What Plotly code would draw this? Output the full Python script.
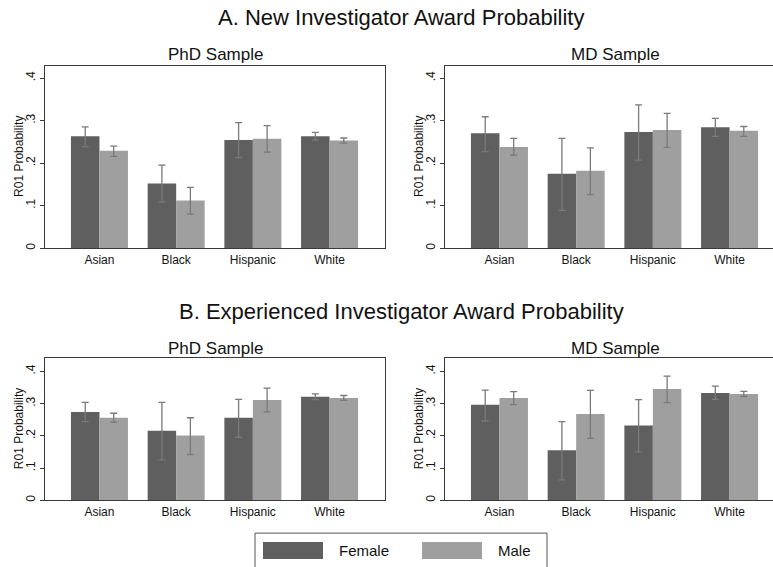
import plotly.graph_objects as go

W, H = 773, 567

categories = ["Asian", "Black", "Hispanic", "White"]
groups = ["Female", "Male"]

# Panel A: New Investigator, PhD sample
a_phd_female = [0.263, 0.152, 0.254, 0.263]
a_phd_female_hi = [0.285, 0.195, 0.295, 0.272]
a_phd_female_lo = [0.238, 0.109, 0.213, 0.254]
a_phd_male = [0.229, 0.112, 0.257, 0.253]
a_phd_male_hi = [0.240, 0.143, 0.288, 0.259]
a_phd_male_lo = [0.216, 0.080, 0.226, 0.247]

# Panel A: New Investigator, MD sample
a_md_female = [0.270, 0.175, 0.273, 0.284]
a_md_female_hi = [0.309, 0.258, 0.337, 0.305]
a_md_female_lo = [0.227, 0.089, 0.207, 0.263]
a_md_male = [0.238, 0.182, 0.278, 0.276]
a_md_male_hi = [0.258, 0.236, 0.317, 0.286]
a_md_male_lo = [0.219, 0.126, 0.237, 0.263]

# Panel B: Experienced Investigator, PhD sample
b_phd_female = [0.274, 0.216, 0.256, 0.321]
b_phd_female_hi = [0.304, 0.304, 0.313, 0.330]
b_phd_female_lo = [0.244, 0.125, 0.195, 0.312]
b_phd_male = [0.256, 0.201, 0.311, 0.317]
b_phd_male_hi = [0.270, 0.256, 0.348, 0.325]
b_phd_male_lo = [0.242, 0.142, 0.274, 0.310]

# Panel B: Experienced Investigator, MD sample
b_md_female = [0.296, 0.155, 0.232, 0.333]
b_md_female_hi = [0.342, 0.244, 0.312, 0.354]
b_md_female_lo = [0.246, 0.063, 0.150, 0.313]
b_md_male = [0.317, 0.268, 0.345, 0.330]
b_md_male_hi = [0.337, 0.341, 0.385, 0.338]
b_md_male_lo = [0.297, 0.192, 0.303, 0.322]

y_ticks = [0, 0.1, 0.2, 0.3, 0.4]
y_tick_labels = ["0", ".1", ".2", ".3", ".4"]

FEMALE = "#5f5f5f"
MALE = "#9f9f9f"
ERR = "#7a7a7a"
FONT = "Liberation Sans, Arial, Helvetica, sans-serif"


def px_x(p):
    return p / W


def px_y(p):
    return 1 - p / H


fig = go.Figure()

panels = [
    ("x", "y", a_phd_female, a_phd_female_hi, a_phd_female_lo, a_phd_male, a_phd_male_hi, a_phd_male_lo),
    ("x2", "y2", a_md_female, a_md_female_hi, a_md_female_lo, a_md_male, a_md_male_hi, a_md_male_lo),
    ("x3", "y3", b_phd_female, b_phd_female_hi, b_phd_female_lo, b_phd_male, b_phd_male_hi, b_phd_male_lo),
    ("x4", "y4", b_md_female, b_md_female_hi, b_md_female_lo, b_md_male, b_md_male_hi, b_md_male_lo),
]

for xa, ya, f, fhi, flo, m, mhi, mlo in panels:
    for name, vals, hi, lo, col in [("Female", f, fhi, flo, FEMALE), ("Male", m, mhi, mlo, MALE)]:
        fig.add_trace(go.Bar(
            x=categories, y=vals, name=name, xaxis=xa, yaxis=ya,
            marker=dict(color=col, line=dict(width=0)),
            offsetgroup=name,
            error_y=dict(type="data", symmetric=False,
                         array=[h - v for h, v in zip(hi, vals)],
                         arrayminus=[v - l for v, l in zip(vals, lo)],
                         color=ERR, thickness=1.3, width=3.5),
            showlegend=False,
        ))

# geometry (pixels)
left_x = (45, 385)
right_x = (445, 773)
top_y = (66, 249)
bot_y = (359.3, 502)
unit = 76.7  # px per category
x_start = -0.71

def xdom(lim):
    return [px_x(lim[0]), px_x(lim[1])]

def ydom(lim):
    return [px_y(lim[1]), px_y(lim[0])]

def xrange(lim):
    return [x_start, x_start + (lim[1] - lim[0]) / unit]

LINE = "#3a3a3a"

xcommon = dict(showline=True, linecolor=LINE, linewidth=1, mirror=True, ticks="",
               showgrid=False, zeroline=False, tickfont=dict(size=12, color="#111", family=FONT),
               fixedrange=True)
ycommon = dict(showline=True, linecolor=LINE, linewidth=1, ticks="outside", ticklen=4,
               tickcolor=LINE, tickvals=y_ticks, ticktext=y_tick_labels, tickangle=-90,
               showgrid=False, zeroline=False, tickfont=dict(size=12, color="#111", family=FONT),
               fixedrange=True)

top_range = [0, (top_y[1] - top_y[0]) / 426.7]
bot_range = [0, (bot_y[1] - bot_y[0]) / 323.3]

fig.update_layout(
    width=W, height=H,
    margin=dict(l=0, r=0, t=0, b=0),
    paper_bgcolor="white", plot_bgcolor="white",
    barmode="group", bargap=0.257, bargroupgap=0,
    font=dict(family=FONT, color="#111"),
    xaxis=dict(domain=xdom(left_x), range=xrange(left_x), anchor="y", **xcommon),
    yaxis=dict(domain=ydom(top_y), range=top_range, anchor="x", mirror=True, **ycommon),
    xaxis2=dict(domain=xdom(right_x), range=xrange(right_x), anchor="y2", **xcommon),
    yaxis2=dict(domain=ydom(top_y), range=top_range, anchor="x2", mirror=False, **ycommon),
    xaxis3=dict(domain=xdom(left_x), range=xrange(left_x), anchor="y3", **xcommon),
    yaxis3=dict(domain=ydom(bot_y), range=bot_range, anchor="x3", mirror=True, **ycommon),
    xaxis4=dict(domain=xdom(right_x), range=xrange(right_x), anchor="y4", **xcommon),
    yaxis4=dict(domain=ydom(bot_y), range=bot_range, anchor="x4", mirror=False, **ycommon),
)

annotations = []

def ann(text, x, y, size, angle=0, xanchor="center"):
    annotations.append(dict(text=text, x=px_x(x), y=px_y(y), xref="paper", yref="paper",
                            showarrow=False, font=dict(size=size, family=FONT, color="#111"),
                            textangle=angle, xanchor=xanchor, yanchor="middle"))

ann("A. New Investigator Award Probability", 401, 18, 22)
ann("B. Experienced Investigator Award Probability", 401, 313, 22)
ann("PhD Sample", 215, 55, 17)
ann("MD Sample", 615, 55, 17)
ann("PhD Sample", 215, 350, 17)
ann("MD Sample", 615, 350, 17)
for x in (19, 419):
    ann("R01 Probability", x, (top_y[0] + top_y[1]) / 2, 12, -90)
    ann("R01 Probability", x, (bot_y[0] + bot_y[1]) / 2, 12, -90)

# legend (built as shapes + text)
ann("Female", 337, 552, 15, xanchor="left")
ann("Male", 496, 552, 15, xanchor="left")

shapes = [
    dict(type="rect", xref="paper", yref="paper", x0=px_x(255), x1=px_x(547),
         y0=px_y(575), y1=px_y(535), line=dict(color="#555", width=1), fillcolor="rgba(0,0,0,0)"),
    dict(type="rect", xref="paper", yref="paper", x0=px_x(263), x1=px_x(323),
         y0=px_y(561), y1=px_y(544), line=dict(width=0), fillcolor=FEMALE),
    dict(type="rect", xref="paper", yref="paper", x0=px_x(422), x1=px_x(482),
         y0=px_y(561), y1=px_y(544), line=dict(width=0), fillcolor=MALE),
]

fig.update_layout(annotations=annotations, shapes=shapes)

fig.write_html("out.html", config={"displayModeBar": False},
               post_script="document.body.style.margin='0';document.body.style.padding='0';")
